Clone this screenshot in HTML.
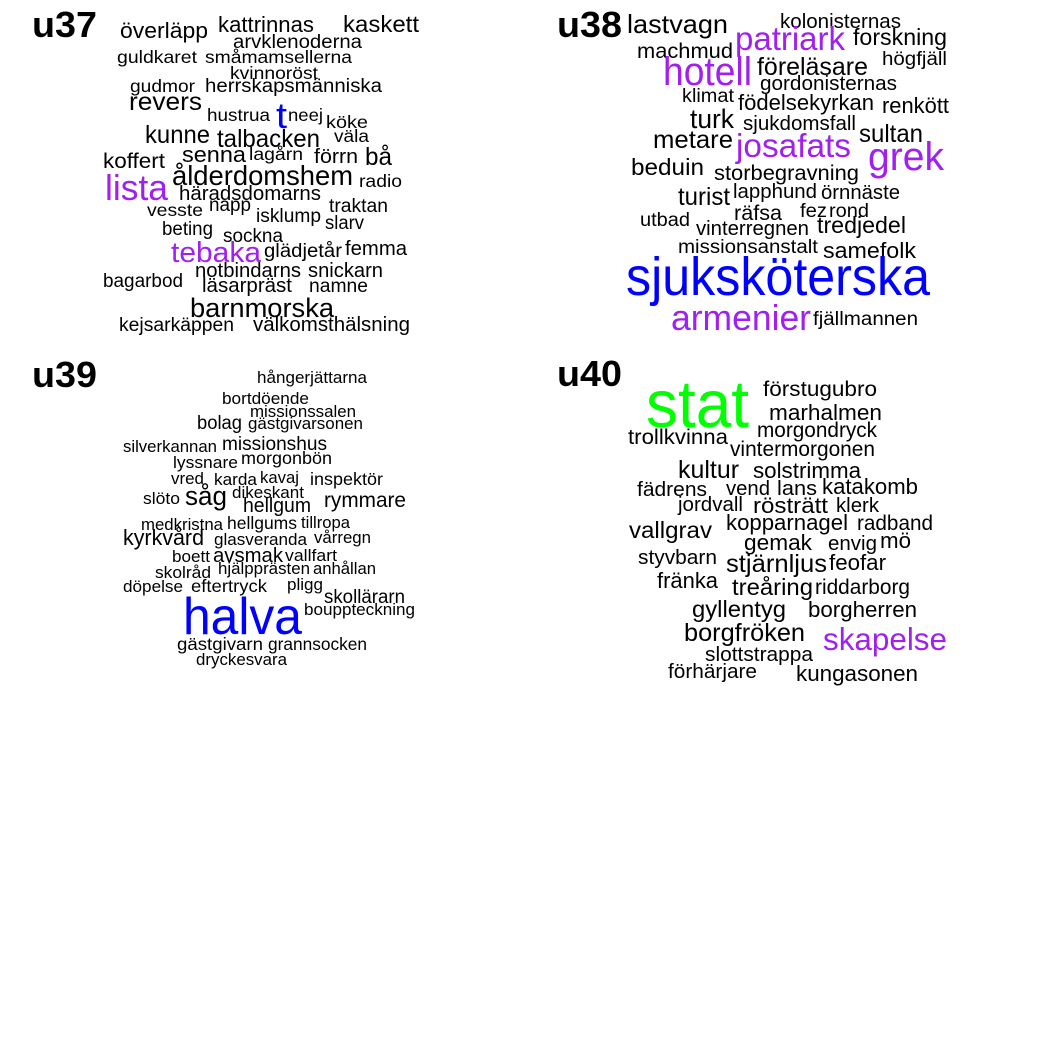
<!DOCTYPE html>
<html><head><meta charset="utf-8">
<style>
html,body{margin:0;padding:0;background:#fff;}
svg{display:block;}
text{font-family:"Liberation Sans",Arial,sans-serif;}
</style></head>
<body>
<svg id="cloud" width="1050" height="1050" viewBox="0 0 1050 1050" xmlns="http://www.w3.org/2000/svg">
<rect width="1050" height="1050" fill="#fff"/>
<text x="32" y="37" font-size="36" font-weight="bold" textLength="65" lengthAdjust="spacingAndGlyphs">u37</text>
<text x="557" y="37" font-size="36" font-weight="bold" textLength="65" lengthAdjust="spacingAndGlyphs">u38</text>
<text x="32" y="387" font-size="36" font-weight="bold" textLength="65" lengthAdjust="spacingAndGlyphs">u39</text>
<text x="557" y="386" font-size="36" font-weight="bold" textLength="65" lengthAdjust="spacingAndGlyphs">u40</text>
</svg>
<script>
const P='#A020F0',B='#0000FF',G='#00FF00',K='#000';
// [word, left, baseline, right, fontSize, color]
const u37Words=[
["överläpp",120,38,208,20,K],["kattrinnas",218,32,314,20,K],["kaskett",343,32,419,21,K],
["arvklenoderna",233,48,362,17,K],["guldkaret",117,63,197,16,K],["småmamsellerna",205,63,352,16,K],
["kvinnoröst",230,79,318,16,K],["gudmor",130,92,195,16,K],["herrskapsmänniska",205,92,382,17,K],
["revers",129,110,202,22,K],["hustrua",207,121,270,16,K],["t",276,128,287,32,B],
["neej",288,121,323,16,K],["köke",326,128,368,16,K],["kunne",145,143,210,22,K],
["talbacken",217,147,320,22,K],["väla",334,142,369,16,K],["koffert",103,168,165,19,K],
["senna",182,162,246,20,K],["lagårn",249,160,303,16,K],["förrn",314,163,358,18,K],
["bå",365,165,392,22,K],["lista",105,200,168,32,P],["ålderdomshem",172,185,353,25,K],
["radio",359,187,402,16,K],["häradsdomarns",179,200,321,18,K],["vesste",147,216,203,16,K],
["napp",209,211,251,17,K],["traktan",329,212,388,17,K],["isklump",256,222,321,17,K],
["slarv",325,229,364,17,K],["beting",162,235,213,17,K],["sockna",223,242,283,17,K],
["tebaka",171,262,261,26,P],["glädjetår",264,257,342,17,K],["femma",345,255,407,18,K],
["bagarbod",103,287,183,17,K],["notbindarns",195,277,301,18,K],["snickarn",308,277,383,18,K],
["läsarpräst",202,292,292,18,K],["namne",309,292,368,17,K],["barnmorska",190,317,334,24,K],
["kejsarkäppen",119,331,234,17,K],["välkomsthälsning",253,331,410,18,K]];
const u38Words=[
["lastvagn",627,33,728,23,K],["kolonisternas",780,28,901,18,K],["patriark",735,50,845,30,P],
["forskning",853,45,947,21,K],["machmud",637,58,733,19,K],["högfjäll",882,65,947,17,K],
["hotell",663,85,752,36,P],["föreläsare",757,75,868,22,K],["gordonisternas",760,90,897,18,K],
["klimat",682,102,734,17,K],["födelsekyrkan",738,110,874,20,K],["renkött",882,113,949,20,K],
["turk",690,128,734,24,K],["sjukdomsfall",743,130,856,18,K],["sultan",859,142,923,22,K],
["metare",653,148,733,22,K],["josafats",736,157,851,30,P],["grek",868,170,944,36,P],
["beduin",631,175,704,21,K],["storbegravning",714,180,859,19,K],["turist",678,205,730,22,K],
["lapphund",733,198,817,18,K],["örnnäste",821,199,900,18,K],["utbad",640,226,690,17,K],
["räfsa",734,220,782,19,K],["fez",800,217,827,17,K],["rond",829,217,869,17,K],
["vinterregnen",696,235,809,18,K],["tredjedel",817,233,906,21,K],["missionsanstalt",678,253,818,17,K],
["samefolk",823,258,916,20,K],["sjuksköterska",626,295,930,48,B],["armenier",671,330,811,32,P],
["fjällmannen",813,325,918,17,K]];
const u39Words=[
["hångerjättarna",257,383,367,15,K],["bortdöende",222,404,309,15,K],["missionssalen",250,417,356,15,K],
["bolag",197,429,242,17,K],["gästgivarsonen",248,429,363,15,K],["silverkannan",123,452,217,15,K],
["missionshus",222,450,327,17,K],["lyssnare",173,468,238,15,K],["morgonbön",241,464,332,16,K],
["vred",171,484,204,15,K],["karda",214,485,257,15,K],["kavaj",260,483,299,15,K],
["inspektör",310,485,383,16,K],["slöto",143,504,180,15,K],["såg",185,505,227,24,K],
["dikeskant",232,498,304,15,K],["hellgum",243,512,311,18,K],["rymmare",324,507,406,19,K],
["medkristna",141,530,223,15,K],["hellgums",227,529,297,16,K],["tillropa",301,528,350,15,K],
["kyrkvård",123,545,204,20,K],["glasveranda",214,545,307,15,K],["vårregn",314,543,371,15,K],
["boett",172,562,210,15,K],["avsmak",213,562,283,18,K],["vallfart",285,561,337,15,K],
["skolråd",155,578,211,15,K],["hjälpprästen",218,574,310,15,K],["anhållan",313,574,376,15,K],
["döpelse",123,592,183,15,K],["eftertryck",191,592,267,16,K],["pligg",287,590,323,15,K],
["skollärarn",324,603,405,17,K],["bouppteckning",304,615,415,15,K],["halva",183,634,302,46,B],
["gästgivarn",177,650,263,16,K],["grannsocken",268,650,367,16,K],["dryckesvara",196,665,287,15,K]];
const u40Words=[
["stat",646,427,749,60,G],["förstugubro",763,396,877,19,K],["marhalmen",769,420,882,20,K],
["morgondryck",757,437,877,19,K],["trollkvinna",628,444,728,19,K],["vintermorgonen",730,456,875,19,K],
["kultur",678,478,739,22,K],["solstrimma",753,478,861,20,K],["fädrens",637,496,707,18,K],
["vend",726,495,770,18,K],["lans",777,495,817,18,K],["katakomb",822,494,918,20,K],
["jordvall",678,511,743,18,K],["rösträtt",753,513,828,20,K],["klerk",836,512,879,18,K],
["kopparnagel",726,530,848,20,K],["radband",857,530,933,19,K],["vallgrav",629,538,712,21,K],
["gemak",744,550,812,20,K],["envig",828,550,877,18,K],["mö",880,548,911,20,K],
["styvbarn",638,564,717,18,K],["stjärnljus",726,572,827,22,K],["feofar",829,570,886,20,K],
["fränka",657,588,718,20,K],["treåring",732,595,813,21,K],["riddarborg",815,594,910,19,K],
["gyllentyg",692,617,786,21,K],["borgherren",808,617,917,20,K],["borgfröken",684,641,805,22,K],
["skapelse",823,650,947,28,P],["slottstrappa",705,661,813,18,K],["förhärjare",668,678,757,18,K],
["kungasonen",796,681,918,20,K]];
const SIZE_SCALE=1.12;
const svg=document.getElementById('cloud');
const NS='http://www.w3.org/2000/svg';
function draw(list,panel){
  for(const w of list){
    const t=document.createElementNS(NS,'text');
    t.setAttribute('x',w[1]);
    t.setAttribute('y',w[2]);
    t.setAttribute('font-size',(w[4]*SIZE_SCALE).toFixed(1));
    t.setAttribute('fill',w[5]);
    t.setAttribute('textLength',w[3]-w[1]);
    t.setAttribute('lengthAdjust','spacingAndGlyphs');
    
    
    t.textContent=w[0];
    svg.appendChild(t);
  }
}
draw(u37Words,'u37');
draw(u38Words,'u38');
draw(u39Words,'u39');
draw(u40Words,'u40');
</script>
</body></html>
